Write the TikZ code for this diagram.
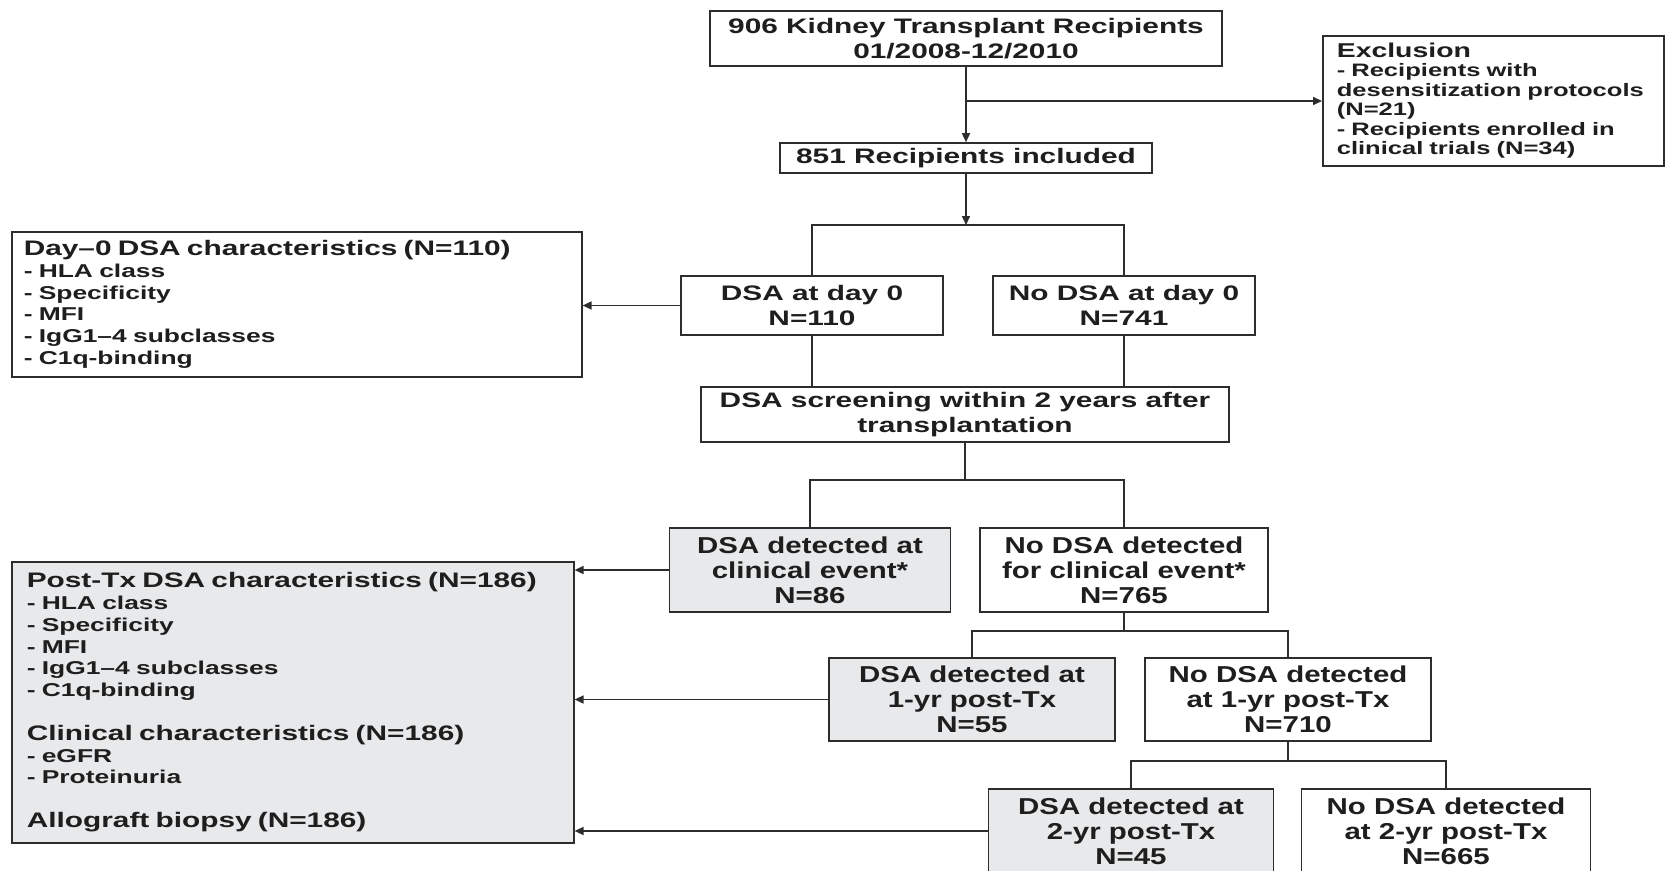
\documentclass[tikz,border=0pt]{standalone}
\usepackage{fontspec}
\setmainfont{Liberation Sans}[FakeStretch=1.42]
\newfontfamily\narrowf{Liberation Sans}[FakeStretch=1.28]
\usetikzlibrary{arrows.meta}
\definecolor{ln}{RGB}{45,45,45}
\definecolor{txt}{RGB}{30,30,30}
\definecolor{fillg}{RGB}{232,233,235}
\begin{document}
\begin{tikzpicture}[x=1pt,y=-1pt,
  box/.style={draw=ln, line width=1.6pt, rectangle, inner sep=0pt, align=center, text=txt,
    font=\fontsize{21}{24.4}\selectfont\bfseries},
  nbox/.style={box, font=\narrowf\fontsize{23}{25}\selectfont\bfseries},
  gbox/.style={nbox, fill=fillg},
  lbox/.style={draw=ln, line width=1.6pt, rectangle, anchor=north west, align=left, text=txt,
    inner ysep=0pt, font=\fontsize{18.6}{21.8}\selectfont\bfseries},
  conn/.style={draw=ln, line width=1.6pt},
  arr/.style={conn, -{Triangle[length=9pt,width=8pt]}},
]
\useasboundingbox (0,0) rectangle (1665,870);
\fill[white] (0,0) rectangle (1665,870);

% main trunk
\node[box, minimum width=512, minimum height=55] (top) at (966,38.5) {906 Kidney Transplant Recipients\\01/2008-12/2010};
\node[box, minimum width=372, minimum height=30] (incl) at (966,158) {851 Recipients included};
\node[lbox, minimum width=341, minimum height=130, inner xsep=14pt, text width=313pt,
  font=\fontsize{18}{19.5}\selectfont\bfseries] (excl) at (1322,35)
  {{\fontsize{20}{19.5}\selectfont Exclusion}\\- Recipients with\\desensitization protocols\\(N=21)\\- Recipients enrolled in\\clinical trials (N=34)};

\coordinate (bx) at (966,101);
\coordinate (s1) at (966,225);
\draw[arr] (top.south) -- (incl.north);
\draw[arr] (bx) -- (bx -| excl.west);
\draw[arr] (incl.south) -- (s1);

\node[box, minimum width=262, minimum height=59] (d0) at (812,305.5) {DSA at day 0\\N=110};
\node[box, minimum width=262, minimum height=59] (nd0) at (1124,305.5) {No DSA at day 0\\N=741};
\draw[conn] (d0.north) -- (d0.north |- s1) -- (nd0.north |- s1) -- (nd0.north);

\node[lbox, minimum width=570, minimum height=145, inner xsep=12pt, text width=546pt] (d0c) at (11,231)
  {{\fontsize{21}{21.8}\selectfont Day--0 DSA characteristics (N=110)}\\- HLA class\\- Specificity\\- MFI\\- IgG1--4 subclasses\\- C1q-binding};
\draw[arr] (d0.west) -- (d0.west -| d0c.east);

\node[box, minimum width=528, minimum height=55] (screen) at (965,414.5) {DSA screening within 2 years after\\transplantation};
\draw[conn] (d0.south) -- (d0.south |- screen.north);
\draw[conn] (nd0.south) -- (nd0.south |- screen.north);

\coordinate (s2) at (965,480);
\draw[conn] (screen.south) -- (s2);

\node[gbox, minimum width=281, minimum height=84] (dc) at (810,570) {DSA detected at\\clinical event*\\N=86};
\node[nbox, minimum width=288, minimum height=84] (ndc) at (1124,570) {No DSA detected\\for clinical event*\\N=765};
\draw[conn] (dc.north) -- (dc.north |- s2) -- (ndc.north |- s2) -- (ndc.north);

\node[lbox, fill=fillg, minimum width=562, minimum height=281, inner xsep=15pt, text width=532pt] (post) at (11,561)
  {{\fontsize{21}{21.8}\selectfont Post-Tx DSA characteristics (N=186)}\\- HLA class\\- Specificity\\- MFI\\- IgG1--4 subclasses\\- C1q-binding\\[21.8pt]
   {\fontsize{21}{21.8}\selectfont Clinical characteristics (N=186)}\\- eGFR\\- Proteinuria\\[21.8pt]
   {\fontsize{21}{21.8}\selectfont Allograft biopsy (N=186)}};
\draw[arr] (dc.west) -- (dc.west -| post.east);

\coordinate (s3) at (1124,631);
\draw[conn] (ndc.south) -- (s3);
\node[gbox, minimum width=286, minimum height=83] (d1) at (972,699.5) {DSA detected at\\1-yr post-Tx\\N=55};
\node[nbox, minimum width=286, minimum height=83] (nd1) at (1288,699.5) {No DSA detected\\at 1-yr post-Tx\\N=710};
\draw[conn] (d1.north) -- (d1.north |- s3) -- (nd1.north |- s3) -- (nd1.north);
\draw[arr] (d1.west) -- (d1.west -| post.east);

\coordinate (s4) at (1288,761);
\draw[conn] (nd1.south) -- (s4);
\node[gbox, minimum width=285, minimum height=84] (d2) at (1131,831) {DSA detected at\\2-yr post-Tx\\N=45};
\node[nbox, minimum width=289, minimum height=84] (nd2) at (1446,831) {No DSA detected\\at 2-yr post-Tx\\N=665};
\draw[conn] (d2.north) -- (d2.north |- s4) -- (nd2.north |- s4) -- (nd2.north);
\draw[arr] (d2.west) -- (d2.west -| post.east);
\end{tikzpicture}
\end{document}
